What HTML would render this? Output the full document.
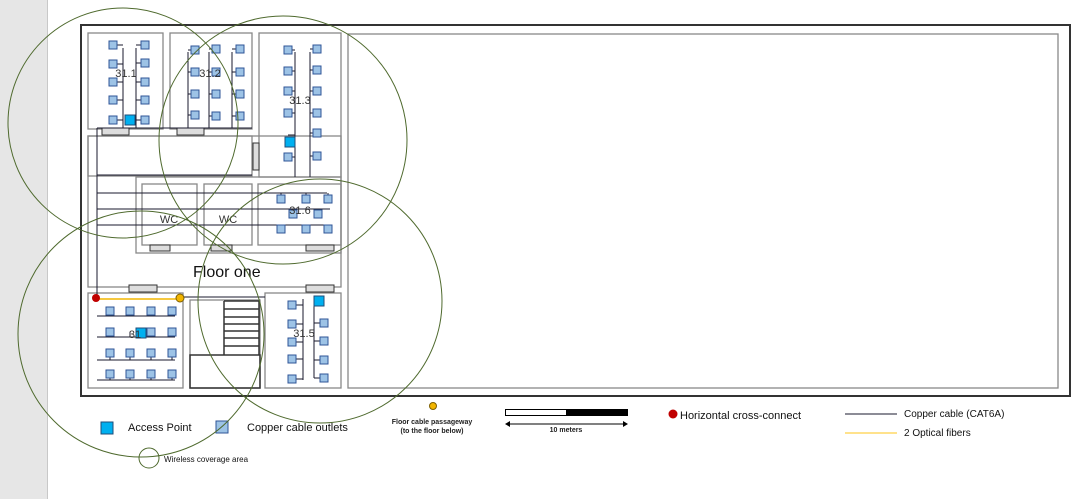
<!DOCTYPE html>
<html><head><style>body{margin:0;background:#fff}svg{display:block;font-family:"Liberation Sans",sans-serif}</style></head><body>
<svg width="1084" height="499" viewBox="0 0 1084 499" xmlns="http://www.w3.org/2000/svg">
<rect x="0" y="0" width="47" height="499" fill="#e6e6e6"/><line x1="47.5" y1="0" x2="47.5" y2="499" stroke="#c8c8c8"/>
<g fill="none" stroke="#333" stroke-width="2"><rect x="81" y="25" width="989" height="371"/></g>
<g fill="none" stroke="#888" stroke-width="1.3">
<rect x="348" y="34" width="710" height="354"/>
<rect x="88" y="33" width="75" height="96"/><rect x="170" y="33" width="82" height="96"/><rect x="259" y="33" width="82" height="144"/>
<rect x="88" y="136" width="164" height="40"/>
<rect x="88" y="136" width="253" height="151"/>
<rect x="136" y="177" width="205" height="76"/>
<rect x="142" y="184" width="55" height="61"/><rect x="204" y="184" width="48" height="61"/><rect x="258" y="184" width="83" height="61"/>
<rect x="88" y="293" width="95" height="95"/><rect x="190" y="300" width="70" height="88"/><rect x="265" y="293" width="76" height="95"/>
</g>
<g fill="#ddd" stroke="#333" stroke-width="1">
<rect x="102" y="128" width="27" height="7"/><rect x="177" y="128" width="27" height="7"/><rect x="253" y="143" width="6" height="27"/>
<rect x="150" y="245" width="20" height="6"/><rect x="211" y="245" width="21" height="6"/><rect x="306" y="245" width="28" height="6"/>
<rect x="129" y="285" width="28" height="7"/><rect x="306" y="285" width="28" height="7"/>
</g>
<g stroke="#333" stroke-width="1.5" fill="none">
<rect x="190" y="355" width="70" height="33"/>
<path d="M224 301V355M259 301V355M224 301H259M224 309H259M224 317H259M224 324H259M224 331H259M224 338H259M224 346H259"/>
</g>
<g stroke="#1a1a2e" stroke-width="1" fill="none">
<path d="M97 128V298M97 128H252M97 175H252M97 193H327M97 209H330M97 225H330M180 297H265"/>
<path d="M123 48V128M113 45H123M113 64H123M113 82H123M113 100H123M113 120H123M136 48V128M136 45H145M136 63H145M136 82H145M136 100H145M136 120H145"/>
<path d="M188 52V128M188 50H195M188 72H195M188 94H195M188 115H195M209 52V128M209 49H216M209 72H216M209 94H216M209 116H216M232 52V128M232 49H240M232 72H240M232 94H240M232 116H240"/>
<path d="M295 52V177M288 50H295M288 71H295M288 91H295M288 113H295M288 135H295M288 157H295M310 52V177M310 49H317M310 70H317M310 91H317M310 113H317M310 133H317M310 156H317"/>
<path d="M281 193V199M306 193V199M328 193V199M293 209V214M318 209V214M281 225V229M306 225V229M328 225V229"/>
<path d="M97 316H175M97 337H175M97 360H175M97 380H175M110 311V316M130 311V316M151 311V316M172 311V316M110 332V337M130 332V337M151 332V337M172 332V337M110 353V360M130 353V360M151 353V360M172 353V360M110 374V380M130 374V380M151 374V380M172 374V380"/>
<path d="M303 299V380M292 305H303M292 324H303M292 342H303M292 359H303M292 379H303M314 299V378M314 303H324M314 323H324M314 341H324M314 360H324M314 378H324"/>
</g>
<g fill="#9dc3e6" stroke="#2f5597" stroke-width="1">
<g transform="translate(-4,-4)">
<rect x="113" y="45" width="8" height="8"/><rect x="113" y="64" width="8" height="8"/><rect x="113" y="82" width="8" height="8"/><rect x="113" y="100" width="8" height="8"/><rect x="113" y="120" width="8" height="8"/>
<rect x="145" y="45" width="8" height="8"/><rect x="145" y="63" width="8" height="8"/><rect x="145" y="82" width="8" height="8"/><rect x="145" y="100" width="8" height="8"/><rect x="145" y="120" width="8" height="8"/>
<rect x="195" y="50" width="8" height="8"/><rect x="195" y="72" width="8" height="8"/><rect x="195" y="94" width="8" height="8"/><rect x="195" y="115" width="8" height="8"/>
<rect x="216" y="49" width="8" height="8"/><rect x="216" y="72" width="8" height="8"/><rect x="216" y="94" width="8" height="8"/><rect x="216" y="116" width="8" height="8"/>
<rect x="240" y="49" width="8" height="8"/><rect x="240" y="72" width="8" height="8"/><rect x="240" y="94" width="8" height="8"/><rect x="240" y="116" width="8" height="8"/>
<rect x="288" y="50" width="8" height="8"/><rect x="288" y="71" width="8" height="8"/><rect x="288" y="91" width="8" height="8"/><rect x="288" y="113" width="8" height="8"/><rect x="288" y="157" width="8" height="8"/>
<rect x="317" y="49" width="8" height="8"/><rect x="317" y="70" width="8" height="8"/><rect x="317" y="91" width="8" height="8"/><rect x="317" y="113" width="8" height="8"/><rect x="317" y="133" width="8" height="8"/><rect x="317" y="156" width="8" height="8"/>
<rect x="281" y="199" width="8" height="8"/><rect x="306" y="199" width="8" height="8"/><rect x="328" y="199" width="8" height="8"/><rect x="293" y="214" width="8" height="8"/><rect x="318" y="214" width="8" height="8"/><rect x="281" y="229" width="8" height="8"/><rect x="306" y="229" width="8" height="8"/><rect x="328" y="229" width="8" height="8"/>
<rect x="110" y="311" width="8" height="8"/><rect x="130" y="311" width="8" height="8"/><rect x="151" y="311" width="8" height="8"/><rect x="172" y="311" width="8" height="8"/>
<rect x="110" y="332" width="8" height="8"/><rect x="151" y="332" width="8" height="8"/><rect x="172" y="332" width="8" height="8"/>
<rect x="110" y="353" width="8" height="8"/><rect x="130" y="353" width="8" height="8"/><rect x="151" y="353" width="8" height="8"/><rect x="172" y="353" width="8" height="8"/>
<rect x="110" y="374" width="8" height="8"/><rect x="130" y="374" width="8" height="8"/><rect x="151" y="374" width="8" height="8"/><rect x="172" y="374" width="8" height="8"/>
<rect x="292" y="305" width="8" height="8"/><rect x="292" y="324" width="8" height="8"/><rect x="292" y="342" width="8" height="8"/><rect x="292" y="359" width="8" height="8"/><rect x="292" y="379" width="8" height="8"/>
<rect x="324" y="323" width="8" height="8"/><rect x="324" y="341" width="8" height="8"/><rect x="324" y="360" width="8" height="8"/><rect x="324" y="378" width="8" height="8"/>
</g>
<rect x="216" y="421" width="12" height="12"/>
</g>
<g fill="#00b0f0" stroke="#1f4e79" stroke-width="1">
<rect x="125" y="115" width="10" height="10"/><rect x="285" y="137" width="10" height="10"/><rect x="136" y="328" width="10" height="10"/><rect x="314" y="296" width="10" height="10"/>
<rect x="101" y="422" width="12" height="12"/>
</g>
<g fill="#333" font-size="11" text-anchor="middle">
<text x="126" y="77">31.1</text><text x="210" y="77">31.2</text><text x="300" y="104">31.3</text><text x="300" y="214">31.6</text>
<text x="169" y="223">WC</text><text x="228" y="223">WC</text><text x="135" y="338">31</text><text x="304" y="337">31.5</text>
</g>
<text x="193" y="277" font-size="16" fill="#111">Floor one</text>
<line x1="96" y1="299" x2="180" y2="299" stroke="#f2b500" stroke-width="1.5"/>
<circle cx="96" cy="298" r="4" fill="#c00000"/><circle cx="180" cy="298" r="4" fill="#f2b500" stroke="#7f6000"/>
<g fill="none" stroke="#4f6a2e" stroke-width="1">
<circle cx="123" cy="123" r="115"/><circle cx="283" cy="140" r="124"/><circle cx="320" cy="301" r="122"/><circle cx="141" cy="334" r="123"/>
<circle cx="149" cy="458" r="10"/>
</g>
<g font-size="11" fill="#111">
<text x="128" y="431">Access Point</text><text x="247" y="431">Copper cable outlets</text>
<text x="680" y="419">Horizontal cross-connect</text><text x="904" y="417" font-size="10">Copper cable (CAT6A)</text><text x="904" y="436" font-size="10">2 Optical fibers</text>
<text x="164" y="462" font-size="8">Wireless coverage area</text>
</g>
<circle cx="433" cy="406" r="3.5" fill="#f2b500" stroke="#7f6000"/>
<g font-size="7" font-weight="bold" text-anchor="middle" fill="#222"><text x="432" y="424">Floor cable passageway</text><text x="432" y="433">(to the floor below)</text><text x="566" y="432">10 meters</text></g>
<rect x="505" y="409" width="123" height="7" fill="#000"/><rect x="506" y="410" width="60" height="5" fill="#fff"/>
<path d="M508 424H625" stroke="#000"/><path d="M505 424l5-3v6zM628 424l-5-3v6z" fill="#000"/>
<circle cx="673" cy="414" r="4.5" fill="#c00000"/>
<line x1="845" y1="414" x2="897" y2="414" stroke="#1a1a2e"/><line x1="845" y1="433" x2="897" y2="433" stroke="#ffd966" stroke-width="1.5"/>
</svg>
</body></html>
